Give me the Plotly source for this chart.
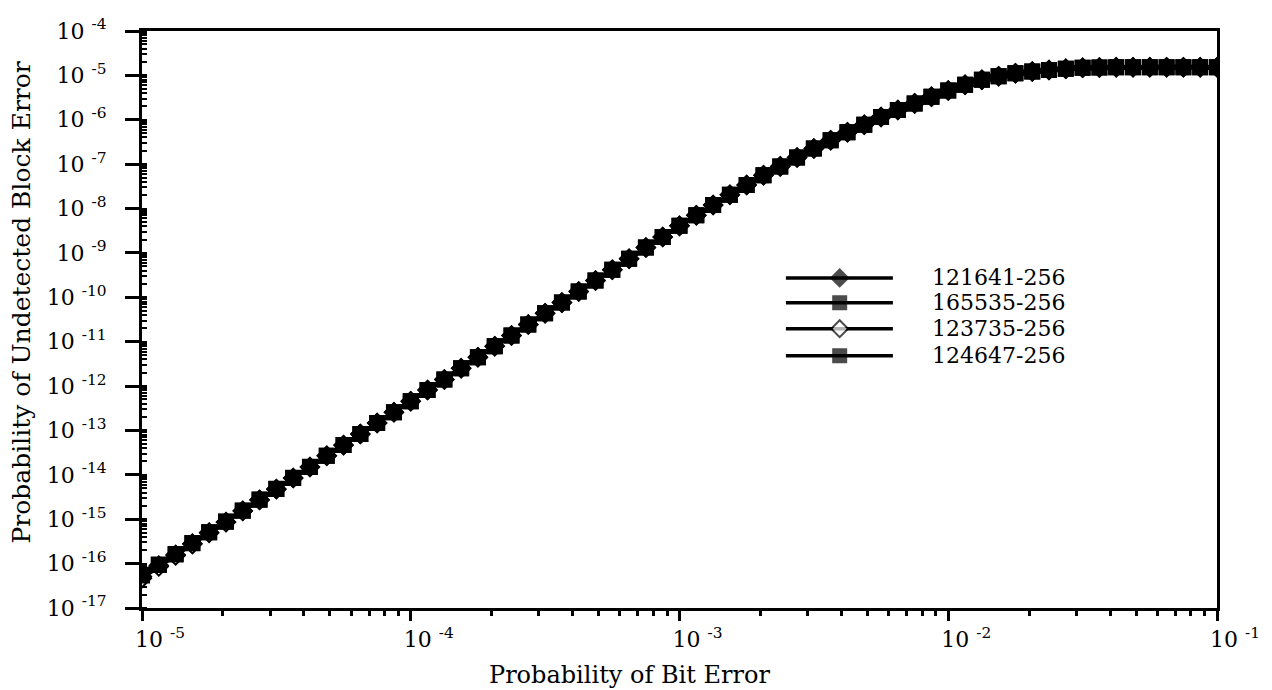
import plotly.graph_objects as go

# Bit error probability (x) for the evaluated points
p_bit = [
    1.000e-5, 1.155e-5, 1.334e-5, 1.540e-5, 1.778e-5, 2.054e-5, 2.371e-5, 2.738e-5,
    3.162e-5, 3.652e-5, 4.217e-5, 4.870e-5, 5.623e-5, 6.494e-5, 7.499e-5, 8.660e-5,
    1.000e-4, 1.155e-4, 1.334e-4, 1.540e-4, 1.778e-4, 2.054e-4, 2.371e-4, 2.738e-4,
    3.162e-4, 3.652e-4, 4.217e-4, 4.870e-4, 5.623e-4, 6.494e-4, 7.499e-4, 8.660e-4,
    1.000e-3, 1.155e-3, 1.334e-3, 1.540e-3, 1.778e-3, 2.054e-3, 2.371e-3, 2.738e-3,
    3.162e-3, 3.652e-3, 4.217e-3, 4.870e-3, 5.623e-3, 6.494e-3, 7.499e-3, 8.660e-3,
    1.000e-2, 1.155e-2, 1.334e-2, 1.540e-2, 1.778e-2, 2.054e-2, 2.371e-2, 2.738e-2,
    3.162e-2, 3.652e-2, 4.217e-2, 4.870e-2, 5.623e-2, 6.494e-2, 7.499e-2, 8.660e-2,
    1.000e-1,
]

# Probability of undetected block error for each generator polynomial
pud_121641 = [
    5.13e-17, 9.12e-17, 1.58e-16, 2.82e-16, 5.01e-16, 8.71e-16, 1.55e-15, 2.75e-15,
    4.79e-15, 8.51e-15, 1.51e-14, 2.69e-14, 4.68e-14, 8.32e-14, 1.48e-13, 2.57e-13,
    4.57e-13, 8.13e-13, 1.41e-12, 2.51e-12, 4.47e-12, 7.94e-12, 1.38e-11, 2.45e-11,
    4.37e-11, 7.59e-11, 1.35e-10, 2.40e-10, 4.17e-10, 7.41e-10, 1.32e-9, 2.29e-9,
    4.07e-9, 7.08e-9, 1.20e-8, 2.04e-8, 3.39e-8, 5.62e-8, 8.91e-8, 1.41e-7,
    2.24e-7, 3.47e-7, 5.25e-7, 7.76e-7, 1.15e-6, 1.66e-6, 2.34e-6, 3.31e-6,
    4.57e-6, 6.17e-6, 7.94e-6, 9.55e-6, 1.12e-5, 1.23e-5, 1.32e-5, 1.41e-5,
    1.48e-5, 1.51e-5, 1.52e-5, 1.53e-5, 1.53e-5, 1.53e-5, 1.53e-5, 1.53e-5,
    1.53e-5,
]
pud_165535 = [
    5.60e-17, 9.60e-17, 1.64e-16, 2.90e-16, 5.12e-16, 8.85e-16, 1.57e-15, 2.78e-15,
    4.83e-15, 8.56e-15, 1.52e-14, 2.70e-14, 4.70e-14, 8.35e-14, 1.48e-13, 2.58e-13,
    4.58e-13, 8.14e-13, 1.41e-12, 2.51e-12, 4.47e-12, 7.94e-12, 1.38e-11, 2.45e-11,
    4.37e-11, 7.59e-11, 1.35e-10, 2.40e-10, 4.17e-10, 7.41e-10, 1.32e-9, 2.29e-9,
    4.07e-9, 7.08e-9, 1.20e-8, 2.04e-8, 3.39e-8, 5.62e-8, 8.91e-8, 1.41e-7,
    2.24e-7, 3.47e-7, 5.25e-7, 7.76e-7, 1.15e-6, 1.66e-6, 2.34e-6, 3.31e-6,
    4.57e-6, 6.17e-6, 7.94e-6, 9.55e-6, 1.12e-5, 1.23e-5, 1.32e-5, 1.41e-5,
    1.48e-5, 1.51e-5, 1.52e-5, 1.53e-5, 1.53e-5, 1.53e-5, 1.53e-5, 1.53e-5,
    1.53e-5,
]
pud_123735 = [
    4.70e-17, 8.60e-17, 1.52e-16, 2.75e-16, 4.92e-16, 8.60e-16, 1.53e-15, 2.72e-15,
    4.75e-15, 8.46e-15, 1.50e-14, 2.68e-14, 4.67e-14, 8.30e-14, 1.47e-13, 2.57e-13,
    4.56e-13, 8.12e-13, 1.41e-12, 2.51e-12, 4.47e-12, 7.94e-12, 1.38e-11, 2.45e-11,
    4.37e-11, 7.59e-11, 1.35e-10, 2.40e-10, 4.17e-10, 7.41e-10, 1.32e-9, 2.29e-9,
    4.07e-9, 7.08e-9, 1.20e-8, 2.04e-8, 3.39e-8, 5.62e-8, 8.91e-8, 1.41e-7,
    2.24e-7, 3.47e-7, 5.25e-7, 7.76e-7, 1.15e-6, 1.66e-6, 2.34e-6, 3.31e-6,
    4.57e-6, 6.17e-6, 7.94e-6, 9.55e-6, 1.12e-5, 1.23e-5, 1.32e-5, 1.41e-5,
    1.48e-5, 1.51e-5, 1.52e-5, 1.53e-5, 1.53e-5, 1.53e-5, 1.53e-5, 1.53e-5,
    1.53e-5,
]
pud_124647 = [
    5.40e-17, 9.35e-17, 1.61e-16, 2.86e-16, 5.06e-16, 8.78e-16, 1.56e-15, 2.76e-15,
    4.81e-15, 8.53e-15, 1.51e-14, 2.69e-14, 4.69e-14, 8.33e-14, 1.48e-13, 2.57e-13,
    4.57e-13, 8.13e-13, 1.41e-12, 2.51e-12, 4.47e-12, 7.94e-12, 1.38e-11, 2.45e-11,
    4.37e-11, 7.59e-11, 1.35e-10, 2.40e-10, 4.17e-10, 7.41e-10, 1.32e-9, 2.29e-9,
    4.07e-9, 7.08e-9, 1.20e-8, 2.04e-8, 3.39e-8, 5.62e-8, 8.91e-8, 1.41e-7,
    2.24e-7, 3.47e-7, 5.25e-7, 7.76e-7, 1.15e-6, 1.66e-6, 2.34e-6, 3.31e-6,
    4.57e-6, 6.17e-6, 7.94e-6, 9.55e-6, 1.12e-5, 1.23e-5, 1.32e-5, 1.41e-5,
    1.48e-5, 1.51e-5, 1.52e-5, 1.53e-5, 1.53e-5, 1.53e-5, 1.53e-5, 1.53e-5,
    1.53e-5,
]

series_names = ["121641-256", "165535-256", "123735-256", "124647-256"]
series_values = [pud_121641, pud_165535, pud_123735, pud_124647]
series_symbols = ["diamond", "square", "diamond-open", "square"]

x_tick_exponents = [-5, -4, -3, -2, -1]
y_tick_exponents = [-4, -5, -6, -7, -8, -9, -10, -11, -12, -13, -14, -15, -16, -17]

FONT = "DejaVu Serif"
INK = "black"


def power_label(exp):
    return f"10 <sup>{exp}</sup>"


fig = go.Figure()

for name, vals, sym in zip(series_names, series_values, series_symbols):
    fill = "white" if sym.endswith("open") else INK
    fig.add_trace(go.Scatter(
        x=p_bit, y=vals, name=name, mode="lines+markers",
        line=dict(color=INK, width=4),
        marker=dict(symbol=sym.replace("-open", ""), size=14, color=fill,
                    line=dict(color=INK, width=2)),
        showlegend=False,
    ))

# Legend keys: long line with a single marker in the middle, drawn on a helper axis
key_rows = [0.572, 0.529, 0.484, 0.437]
key_x = [0.599, 0.649, 0.6985]
for name, sym, row in zip(series_names, series_symbols, key_rows):
    fill = "white" if sym.endswith("open") else INK
    fig.add_trace(go.Scatter(
        x=key_x, y=[row, row, row], xaxis="x2", yaxis="y2",
        mode="lines+markers", showlegend=False, hoverinfo="skip",
        line=dict(color=INK, width=3.5),
        marker=dict(symbol=sym.replace("-open", ""), size=[0, 13, 0], color=fill,
                    line=dict(color=INK, width=2)),
    ))
    fig.add_annotation(
        x=0.733, y=row, xref="paper", yref="paper", text=name,
        showarrow=False, xanchor="left", yanchor="middle",
        font=dict(family=FONT, size=22, color=INK),
    )

fig.update_layout(
    width=1272, height=690, autosize=False,
    margin=dict(l=142, r=52, t=31, b=82),
    paper_bgcolor="white", plot_bgcolor="white",
    showlegend=False,
    font=dict(family=FONT, color=INK),
    xaxis=dict(
        type="log", range=[-5, -1], showgrid=False, zeroline=False,
        showline=True, linecolor=INK, linewidth=3, mirror=True,
        tickmode="array",
        tickvals=[10.0 ** e for e in x_tick_exponents],
        ticktext=[power_label(e) for e in x_tick_exponents],
        ticks="outside", ticklen=10, tickwidth=3, tickcolor=INK,
        ticklabelshift=18,
        tickfont=dict(family=FONT, size=22, color=INK),
        minor=dict(ticks="outside", ticklen=5, tickwidth=3, tickcolor=INK,
                   dtick="D1", showgrid=False),
    ),
    yaxis=dict(
        type="log", range=[-17, -4], showgrid=False, zeroline=False,
        showline=True, linecolor=INK, linewidth=3, mirror=True,
        tickmode="array",
        tickvals=[10.0 ** e for e in y_tick_exponents],
        ticktext=[power_label(e) for e in y_tick_exponents],
        ticks="outside", ticklen=14, tickwidth=3, tickcolor=INK,
        ticklabelstandoff=14,
        tickfont=dict(family=FONT, size=22, color=INK),
        minor=dict(ticks="inside", ticklen=5, tickwidth=2, tickcolor=INK,
                   dtick="D1", showgrid=False),
    ),
    xaxis2=dict(domain=[0, 1], range=[0, 1], overlaying="x", anchor="y2",
                visible=False, fixedrange=True),
    yaxis2=dict(domain=[0, 1], range=[0, 1], overlaying="y", anchor="x2",
                visible=False, fixedrange=True),
)

fig.add_annotation(
    x=0.4536, y=-0.116, xref="paper", yref="paper",
    text="Probability of Bit Error", showarrow=False,
    xanchor="center", yanchor="middle",
    font=dict(family=FONT, size=24, color=INK),
)
fig.add_annotation(
    x=-0.1122, y=0.53, xref="paper", yref="paper",
    text="Probability of Undetected Block Error", showarrow=False,
    textangle=-90, xanchor="center", yanchor="middle",
    font=dict(family=FONT, size=25, color=INK),
)

fig.write_html("out.html")
